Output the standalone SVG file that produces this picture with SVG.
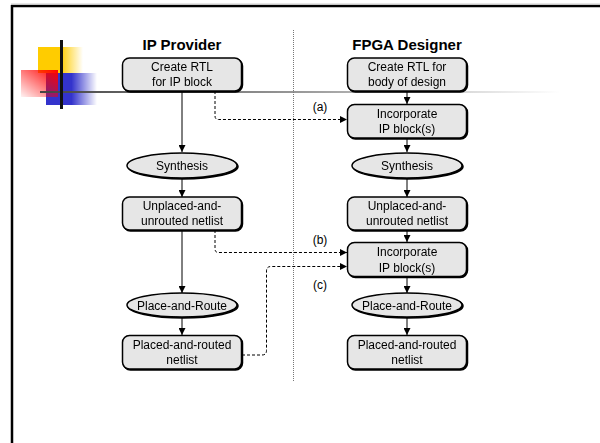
<svg xmlns="http://www.w3.org/2000/svg" width="600" height="443" viewBox="0 0 600 443">
<defs>
<linearGradient id="gy" x1="0" y1="0" x2="1" y2="0"><stop offset="0.5" stop-color="#ffcc00"/><stop offset="1" stop-color="#ffcc00" stop-opacity="0"/></linearGradient>
<linearGradient id="gb" x1="0" y1="0" x2="1" y2="0"><stop offset="0.5" stop-color="#3333cc"/><stop offset="1" stop-color="#3333cc" stop-opacity="0"/></linearGradient>
<linearGradient id="gr" x1="1" y1="0" x2="0" y2="1"><stop offset="0" stop-color="#ff0000"/><stop offset="1" stop-color="#ff0000" stop-opacity="0.05"/></linearGradient>
<linearGradient id="gl" x1="0" y1="0" x2="1" y2="0"><stop offset="0" stop-color="#444"/><stop offset="0.5" stop-color="#999"/><stop offset="1" stop-color="#999" stop-opacity="0"/></linearGradient>
<marker id="ah" viewBox="0 0 10 10" refX="10" refY="5" markerWidth="7" markerHeight="7" markerUnits="userSpaceOnUse" orient="auto"><path d="M0,0 L10,5 L0,10 z" fill="#000"/></marker>
<filter id="sh" x="-10%" y="-10%" width="130%" height="140%"><feOffset dx="1" dy="1" in="SourceAlpha" result="o"/><feGaussianBlur in="o" stdDeviation="0.6" result="b"/><feMerge><feMergeNode in="b"/><feMergeNode in="SourceGraphic"/></feMerge></filter>
</defs>
<style>
.box{fill:#e6e6e6;stroke:#000;stroke-width:1.5}
.t{font-family:"Liberation Sans",Arial,sans-serif;font-size:12px;fill:#000;text-anchor:middle}
.h{font-family:"Liberation Sans",Arial,sans-serif;font-size:15px;font-weight:bold;fill:#000;text-anchor:middle}
.lb{font-family:"Liberation Sans",Arial,sans-serif;font-size:12px;fill:#000;text-anchor:middle}
.s{fill:none;stroke:#000;stroke-width:1;marker-end:url(#ah)}
.d{fill:none;stroke:#000;stroke-width:1;stroke-dasharray:3,2;marker-end:url(#ah)}
</style>
<rect width="600" height="443" fill="#fff"/>
<!-- frame -->
<line x1="12" y1="5" x2="12" y2="443" stroke="#000" stroke-width="2.5"/>
<line x1="11" y1="6" x2="600" y2="6" stroke="#000" stroke-width="2.5"/>
<line x1="11" y1="4" x2="600" y2="4" stroke="#ccc" stroke-width="1"/>
<!-- logo -->
<g id="logo">
<rect x="38" y="47" width="45" height="26" fill="url(#gy)"/>
<rect x="46" y="73" width="51" height="32" fill="url(#gb)"/>
<rect x="21" y="70" width="37" height="27" fill="url(#gr)"/>
<rect x="40" y="91" width="520" height="2" fill="url(#gl)"/>
<rect x="60" y="40" width="3" height="69" fill="#111"/>
</g>
<!-- divider -->
<line x1="293.5" y1="30" x2="293.5" y2="382" stroke="#777" stroke-width="1" stroke-dasharray="1,1"/>
<text class="h" x="182" y="50">IP Provider</text>
<text class="h" x="407" y="50">FPGA Designer</text>
<g id="connectors">
<line class="s" x1="182" y1="91" x2="182" y2="152"/>
<line class="s" x1="182" y1="178" x2="182" y2="197"/>
<line class="s" x1="182" y1="230" x2="182" y2="293"/>
<line class="s" x1="182" y1="317" x2="182" y2="335"/>
<line class="s" x1="407" y1="91" x2="407" y2="104"/>
<line class="s" x1="407" y1="138" x2="407" y2="152"/>
<line class="s" x1="407" y1="178" x2="407" y2="197"/>
<line class="s" x1="407" y1="230" x2="407" y2="242"/>
<line class="s" x1="407" y1="277" x2="407" y2="293"/>
<line class="s" x1="407" y1="317" x2="407" y2="335"/>
<path class="d" d="M215,91 V116 Q215,119.5 218.5,119.5 H347"/>
<path class="d" d="M215,230 V249 Q215,252.5 218.5,252.5 H347"/>
<path class="d" d="M242,355 H262 Q266.5,355 266.5,350.5 V271 Q266.5,266.5 271,266.5 H347"/>
<text class="lb" x="320" y="111">(a)</text>
<text class="lb" x="320" y="244">(b)</text>
<text class="lb" x="320" y="289">(c)</text>
</g>
<g id="n1" filter="url(#sh)"><rect class="box" x="122.5" y="58" width="119" height="33" rx="7"/><text class="t" x="182" y="71">Create RTL</text><text class="t" x="182" y="86">for IP block</text></g>
<g id="n2" filter="url(#sh)"><ellipse class="box" cx="182" cy="165.5" rx="55" ry="12.5"/><text class="t" x="182" y="170">Synthesis</text></g>
<g id="n3" filter="url(#sh)"><rect class="box" x="122.5" y="197" width="119" height="33" rx="7"/><text class="t" x="182" y="210">Unplaced-and-</text><text class="t" x="182" y="225">unrouted netlist</text></g>
<g id="n4" filter="url(#sh)"><ellipse class="box" cx="182" cy="305" rx="55" ry="12"/><text class="t" x="182" y="309.5">Place-and-Route</text></g>
<g id="n5" filter="url(#sh)"><rect class="box" x="122.5" y="335.5" width="119" height="33.5" rx="7"/><text class="t" x="182" y="348.5">Placed-and-routed</text><text class="t" x="182" y="364">netlist</text></g>
<g id="m1" filter="url(#sh)"><rect class="box" x="347.5" y="58" width="119" height="33" rx="7"/><text class="t" x="407" y="71">Create RTL for</text><text class="t" x="407" y="86">body of design</text></g>
<g id="m2" filter="url(#sh)"><rect class="box" x="347.5" y="104.5" width="119" height="33.5" rx="7"/><text class="t" x="407" y="118">Incorporate</text><text class="t" x="407" y="133">IP block(s)</text></g>
<g id="m3" filter="url(#sh)"><ellipse class="box" cx="407" cy="165.5" rx="55" ry="12.5"/><text class="t" x="407" y="170">Synthesis</text></g>
<g id="m4" filter="url(#sh)"><rect class="box" x="347.5" y="197" width="119" height="33" rx="7"/><text class="t" x="407" y="210">Unplaced-and-</text><text class="t" x="407" y="225">unrouted netlist</text></g>
<g id="m5" filter="url(#sh)"><rect class="box" x="347.5" y="242.5" width="119" height="34" rx="7"/><text class="t" x="407" y="256">Incorporate</text><text class="t" x="407" y="271.5">IP block(s)</text></g>
<g id="m6" filter="url(#sh)"><ellipse class="box" cx="407" cy="305" rx="55" ry="12"/><text class="t" x="407" y="309.5">Place-and-Route</text></g>
<g id="m7" filter="url(#sh)"><rect class="box" x="347.5" y="335.5" width="119" height="33.5" rx="7"/><text class="t" x="407" y="348.5">Placed-and-routed</text><text class="t" x="407" y="364">netlist</text></g>
</svg>
